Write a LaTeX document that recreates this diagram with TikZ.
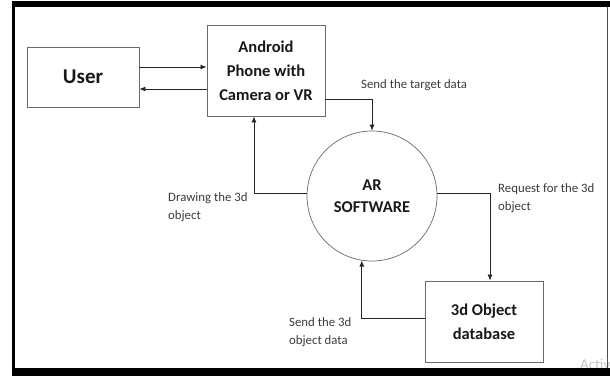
\documentclass[tikz,border=0pt]{standalone}
\usepackage{fontspec}
\setmainfont{Carlito}
\usetikzlibrary{arrows.meta}
\definecolor{boxline}{HTML}{6A6A6A}
\definecolor{labeltext}{HTML}{3C3C3C}
\tikzset{
  boxnode/.style={draw=boxline, line width=0.9pt, fill=white, rectangle, inner sep=0pt,
    align=center, text=black!90, font=\bfseries\fontsize{16.5}{24}\selectfont},
  circnode/.style={draw=boxline, line width=0.7pt, circle, inner sep=0pt, minimum size=130pt,
    align=center, text=black!90, font=\bfseries\fontsize{16.5}{22}\selectfont},
  arr/.style={draw=black!85, line width=0.8pt, -{Latex[length=6pt,width=5pt]}},
  lbl/.style={anchor=north west, inner sep=0pt, align=left, text=labeltext,
    font=\fontsize{12.8}{18.5}\selectfont}
}
\begin{document}
\begin{tikzpicture}[x=1pt,y=-1pt]
\useasboundingbox (0,0) rectangle (610,376);
\fill[white] (0,0) rectangle (610,376);
% watermark
\node[anchor=west, inner sep=0pt, text=black!22, font=\fontsize{15}{15}\selectfont] (wm) at (580,364) {Activ};
% frame
\fill[black] (12,1) rectangle (610,7);
\fill[black] (12,1) rectangle (15,376);
\fill[black] (12,368) rectangle (610,376);
\draw[black!70, line width=1pt] (607,7) -- (607,368);
% nodes
\node[boxnode, minimum width=112pt, minimum height=60pt, font=\bfseries\fontsize{21}{24}\selectfont] (user) at (83,77) {User};
\node[boxnode, minimum width=118pt, minimum height=91pt] (phone) at (266,70.5) {Android\\Phone with\\Camera or VR};
\node[circnode] (ar) at (372,196) {AR\\SOFTWARE};
\node[boxnode, minimum width=118pt, minimum height=81pt] (db) at (484,321.5) {3d Object\\database};
% connectors
\draw[arr] ([yshift=10pt]user.east) -- ([yshift=10pt]user.east -| phone.west);
\draw[arr] ([yshift=-12pt]user.east -| phone.west) -- ([yshift=-12pt]user.east);
\draw[arr] ([yshift=-28.5pt]phone.east) -| (ar.north);
\draw[arr] ([yshift=3pt]ar.west) -| ([xshift=-12pt]phone.south);
\draw[arr] ([yshift=3pt]ar.east) -| ([xshift=6pt]db.north);
\draw[arr] ([yshift=3.5pt]db.west) -| (ar.261);
% labels
\node[lbl] (l1) at (361,79) {Send the target data};
\node[lbl] (l2) at (498,183) {Request for the 3d\\object};
\node[lbl] (l3) at (168,192) {Drawing the 3d\\object};
\node[lbl] (l4) at (289,317) {Send the 3d\\object data};
\end{tikzpicture}
\end{document}
